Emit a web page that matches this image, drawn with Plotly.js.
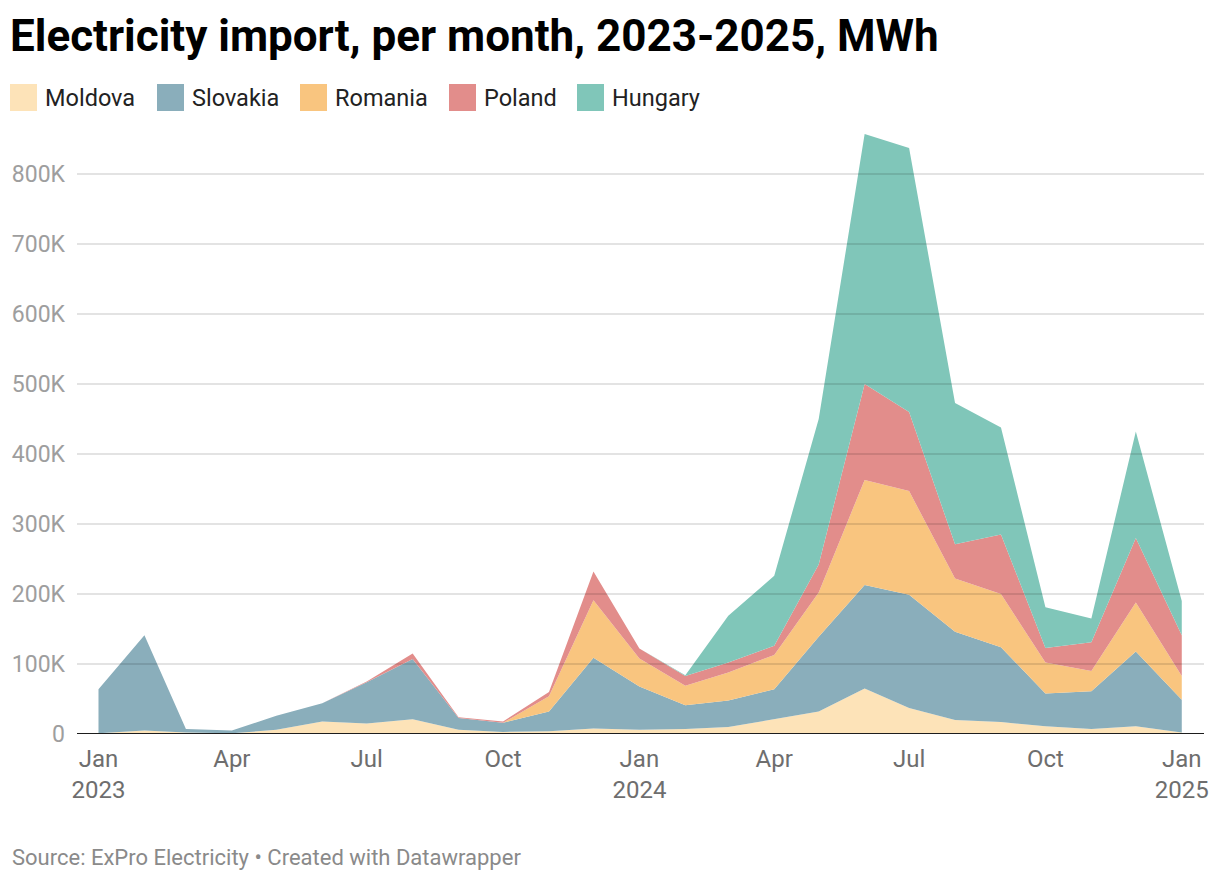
<!DOCTYPE html>
<html>
<head>
<meta charset="utf-8">
<script src="https://cdn.plot.ly/plotly-3.0.1.min.js"></script>
<style>
html,body{margin:0;padding:0;background:#fff;}
#chart{width:1220px;height:882px;}
</style>
</head>
<body>
<div id="chart"></div>
<script>
// ---- data (MWh) ----
const months = [
  "2023-01-01","2023-02-01","2023-03-01","2023-04-01","2023-05-01","2023-06-01",
  "2023-07-01","2023-08-01","2023-09-01","2023-10-01","2023-11-01","2023-12-01",
  "2024-01-01","2024-02-01","2024-03-01","2024-04-01","2024-05-01","2024-06-01",
  "2024-07-01","2024-08-01","2024-09-01","2024-10-01","2024-11-01","2024-12-01",
  "2025-01-01"
];
const moldova  = [1000,5000,2000,1000,6000,18000,15000,21000,6000,3000,4000,8000,6000,7000,10000,21000,32000,65000,37000,20000,17000,11000,7000,11000,2000];
const slovakia = [63000,136000,5000,4000,20000,26000,59000,86000,17000,13000,28000,101000,62000,34000,38000,43000,107000,148000,162000,126000,107000,47000,54000,107000,47000];
const romania  = [0,0,0,0,0,0,0,0,0,0,22000,82000,40000,28000,40000,49000,63000,150000,148000,76000,76000,44000,29000,70000,34000];
const poland   = [0,0,0,0,0,0,1000,8000,1000,2000,6000,41000,14000,14000,14000,13000,40000,137000,113000,49000,85000,21000,41000,92000,58000];
const hungary  = [0,0,0,0,0,0,0,0,0,0,0,0,0,1000,67000,100000,208000,357000,377000,202000,153000,58000,34000,152000,49000];

const seriesNames  = ["Moldova","Slovakia","Romania","Poland","Hungary"];
const seriesValues = [moldova, slovakia, romania, poland, hungary];
const seriesColors = ["#fde3b8","#8aaebb","#f9c57f","#e28d8b","#80c6b9"];

const yTickVals = [0,100000,200000,300000,400000,500000,600000,700000,800000];
const yTickText = ["0","100K","200K","300K","400K","500K","600K","700K","800K"];
const xTickVals = ["2023-01-01","2023-04-01","2023-07-01","2023-10-01","2024-01-01","2024-04-01","2024-07-01","2024-10-01","2025-01-01"];
const xTickText = ["Jan<br>2023","Apr","Jul","Oct","Jan<br>2024","Apr","Jul","Oct","Jan<br>2025"];

// ---- layout geometry ----
const W = 1220, H = 882;
const M = {l:77, r:16, t:125, b:148};
const plotW = W - M.l - M.r, plotH = H - M.t - M.b;
const px = x => (x - M.l) / plotW;
const py = y => (H - M.b - y) / plotH;

const FONT = "Roboto, 'Open Sans', sans-serif";

const traces = seriesNames.map((name, i) => ({
  type: "scatter",
  mode: "lines",
  name: name,
  x: months,
  y: seriesValues[i],
  stackgroup: "one",
  fill: "tonexty",
  fillcolor: seriesColors[i],
  line: {width: 0, color: seriesColors[i]},
  hoverinfo: "skip",
  showlegend: false
}));

// gridlines over the areas (semi-transparent like the reference)
const shapes = yTickVals.filter(v => v > 0).map(v => ({
  type: "line", layer: "above", xref: "paper", yref: "y",
  x0: 0, x1: 1, y0: v, y1: v,
  line: {color: "rgba(0,0,0,0.11)", width: 2}
}));
shapes.push({
  type: "line", layer: "above", xref: "paper", yref: "y",
  x0: 0, x1: 1, y0: 0, y1: 0,
  line: {color: "#1d1d1d", width: 2}
});

// custom legend: big square swatches + labels
const legendX = [10, 157, 300, 449, 577];
const legendCY = 97.5, sw = 27;
const annotations = [];
seriesNames.forEach((name, i) => {
  shapes.push({
    type: "rect", xref: "paper", yref: "paper", layer: "above",
    x0: px(legendX[i]), x1: px(legendX[i] + sw),
    y0: py(legendCY - sw/2), y1: py(legendCY + sw/2),
    fillcolor: seriesColors[i], line: {width: 0}
  });
  annotations.push({
    xref: "paper", yref: "paper", showarrow: false,
    x: px(legendX[i] + sw + 6), y: py(legendCY),
    xanchor: "left", yanchor: "middle",
    text: name, font: {family: FONT, size: 23.5, color: "#222"}
  });
});
annotations.push({
  xref: "paper", yref: "paper", showarrow: false,
  x: px(10), y: py(857), xanchor: "left", yanchor: "middle",
  text: "Source: ExPro Electricity • Created with Datawrapper",
  font: {family: FONT, size: 22, color: "#8a8a8a"}
});

const layout = {
  width: W, height: H,
  margin: M,
  paper_bgcolor: "#fff", plot_bgcolor: "#fff",
  showlegend: false,
  hovermode: false,
  font: {family: FONT},
  title: {
    text: "<b>Electricity import, per month, 2023-2025, MWh</b>",
    font: {family: FONT, size: 44, color: "#000"},
    xref: "container", yref: "container",
    x: 10 / W, xanchor: "left",
    y: 1 - 36 / H, yanchor: "middle"
  },
  xaxis: {
    type: "date",
    range: ["2022-12-17 12:00", "2025-01-16"],
    tickmode: "array", tickvals: xTickVals, ticktext: xTickText,
    showgrid: false, zeroline: false, showline: false,
    ticks: "", ticklabelstandoff: 8,
    tickfont: {family: FONT, size: 24, color: "#6e6e6e"},
    fixedrange: true
  },
  yaxis: {
    range: [0, 870000],
    tickmode: "array", tickvals: yTickVals, ticktext: yTickText,
    showgrid: false, zeroline: false, showline: false,
    ticks: "", ticklabelstandoff: 11,
    tickfont: {family: FONT, size: 23, color: "#9e9e9e"},
    fixedrange: true
  },
  shapes: shapes,
  annotations: annotations
};

Plotly.newPlot("chart", traces, layout, {displayModeBar: false, staticPlot: true});
</script>
</body>
</html>
